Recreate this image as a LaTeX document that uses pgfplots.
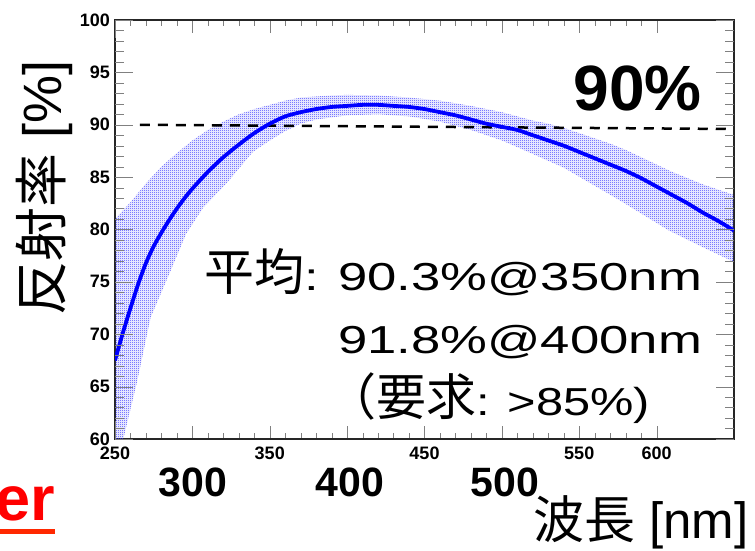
\documentclass[border=0pt]{standalone}
\usepackage{pgfplots}
\pgfplotsset{compat=1.18}
\usepackage{pgfplotstable}
\usetikzlibrary{patterns.meta}
\usepackage{fontspec}
\setmainfont{Liberation Sans}
\newfontfamily\cjk{Noto Sans CJK JP}
\newfontfamily\wide[FakeStretch=1.35]{Liberation Sans}
\newfontfamily\widec[FakeStretch=1.25]{Liberation Sans}

\tikzdeclarepattern{
  name=rootdots,
  type=uncolored,
  bounding box={(0,0) and (2bp,2bp)},
  tile size={(2bp,2bp)},
  code={
    \pgfpathrectangle{\pgfpoint{0bp}{0bp}}{\pgfpoint{1bp}{1bp}}
    \pgfpathrectangle{\pgfpoint{1bp}{1bp}}{\pgfpoint{1bp}{1bp}}
    \pgfusepath{fill}
  }
}

\pgfplotstableread{
x y
250 67.5
255 70.1
260 72.5
265 74.8
270 76.8
275 78.4
280 79.7
285 80.9
290 82.0
295 83.0
300 83.9
310 85.5
320 86.9
330 88.1
340 89.2
350 90.1
360 90.8
370 91.2
380 91.5
390 91.7
400 91.8
410 91.9
420 91.9
430 91.8
440 91.7
450 91.5
460 91.2
470 90.9
480 90.5
490 90.1
500 89.8
510 89.5
520 89.0
530 88.5
540 88.0
550 87.4
560 86.8
570 86.2
580 85.6
590 84.9
600 84.1
610 83.3
620 82.5
630 81.6
640 80.8
650 79.9
}\curvetab

% error band: upper edge (increasing x) followed by lower edge (decreasing x)
\pgfplotstableread{
x y
250 81.0
260 82.6
270 84.4
280 86.0
290 87.3
300 88.5
310 89.5
320 90.3
330 91.0
340 91.5
350 91.9
360 92.3
370 92.6
380 92.7
390 92.8
400 92.85
420 92.8
440 92.6
460 92.3
480 91.8
500 91.2
510 90.8
520 90.4
530 90.1
540 89.7
550 89.2
560 88.7
570 88.2
580 87.6
590 86.9
600 86.2
610 85.5
620 84.9
630 84.3
640 83.8
650 83.3
650 76.9
630 78.3
608 79.9
576 82.8
540 85.9
511 87.8
500 88.5
480 89.5
460 90.3
440 90.8
420 91.0
400 90.9
380 90.5
370 90.1
360 89.4
350 88.5
339 87.4
322 84.4
307 82.1
296 79.6
284 75.4
273 71.6
264 65.3
255 59.8
250 56.8
}\bandtab

\definecolor{ulred}{RGB}{255,40,0}

\begin{document}
\begin{tikzpicture}
\useasboundingbox (0,0) rectangle (755bp,-551bp);
% main axis: x ticks, data
\begin{axis}[
  scale only axis, width=619bp, height=419bp,
  at={(115bp,-439bp)}, anchor=south west,
  xmin=250, xmax=650, ymin=60, ymax=100,
  axis line style={line width=1.2bp, black!85},
  xtick={250,300,...,600},
  xticklabels={250,,350,,450,,550,600},
  minor x tick num=4,
  ytick={60,65,...,100},
  minor y tick num=4,
  yticklabels={},
  tick align=inside, tick pos=both,
  major tick length=13bp, minor tick length=6bp,
  xticklabel pos=lower,
  xticklabel style={font=\fontsize{18bp}{18bp}\selectfont\bfseries, inner sep=0pt, yshift=-8bp},
  /pgf/number format/assume math mode=true,
]
\addplot[pattern=rootdots, pattern color=blue!80, draw=none] table[x=x,y=y]{\bandtab};
\addplot[black, line width=2.5bp, dash pattern=on 10bp off 8bp] coordinates {(266,90.0) (645,89.6)};
\addplot[blue, line width=3.8bp, smooth, tension=0.4] table[x=x,y=y]{\curvetab};
\end{axis}
% y-tick labels and longer y ticks
\begin{axis}[
  scale only axis, width=619bp, height=419bp,
  at={(115bp,-439bp)}, anchor=south west,
  xmin=250, xmax=650, ymin=60, ymax=100,
  axis line style={draw=none},
  xtick={250},
  xticklabels={},
  ytick={60,65,...,100},
  minor y tick num=4,
  tick align=inside, tick pos=both,
  major tick length=18bp, minor tick length=9bp,
  yticklabel pos=left,
  yticklabel style={font=\fontsize{18bp}{18bp}\selectfont\bfseries, inner sep=0pt, xshift=-5bp},
  /pgf/number format/assume math mode=true,
]
\addplot[draw=none] coordinates {(300,70) (400,80)};
\end{axis}
% big x labels
\node[anchor=base, font=\fontsize{41bp}{41bp}\selectfont\bfseries] at (193bp,-496bp) {300};
\node[anchor=base, font=\fontsize{41bp}{41bp}\selectfont\bfseries] at (350bp,-496bp) {400};
\node[anchor=base, font=\fontsize{41bp}{41bp}\selectfont\bfseries] at (505bp,-496bp) {500};
% axis titles
\node[anchor=base west, inner sep=0pt, font=\fontsize{51bp}{51bp}\selectfont] at (533bp,-538bp) {{\cjk 波長} [nm]};
\node[rotate=90, anchor=center, inner sep=0pt, font=\fontsize{54bp}{54bp}\selectfont] at (44bp,-188bp) {{\cjk 反射率} [\%]};
% 90%
\node[anchor=base east, inner sep=0pt, font=\fontsize{64bp}{64bp}\selectfont\bfseries] at (702bp,-110bp) {90\%};
% text block
\node[anchor=base west, inner sep=0pt] at (204bp,-290bp) {{\cjk\fontsize{50bp}{50bp}\selectfont 平均}{\wide\fontsize{39bp}{39bp}\selectfont :}};
\node[anchor=base west, inner sep=0pt] at (338bp,-290bp) {\wide\fontsize{39bp}{39bp}\selectfont 90.3\%@350nm};
\node[anchor=base west, inner sep=0pt] at (338bp,-353bp) {\wide\fontsize{39bp}{39bp}\selectfont 91.8\%@400nm};
\node[anchor=base west, inner sep=0pt] at (326bp,-415bp) {{\cjk\fontsize{50bp}{50bp}\selectfont （要求}{\widec\fontsize{39bp}{39bp}\selectfont : >85\%)}};
% red er
\node[anchor=base east, inner sep=0pt, text=red, font=\fontsize{63bp}{63bp}\selectfont\bfseries] at (55bp,-520bp) {er};
\fill[ulred] (0bp,-529bp) rectangle (55bp,-534bp);
\end{tikzpicture}
\end{document}
